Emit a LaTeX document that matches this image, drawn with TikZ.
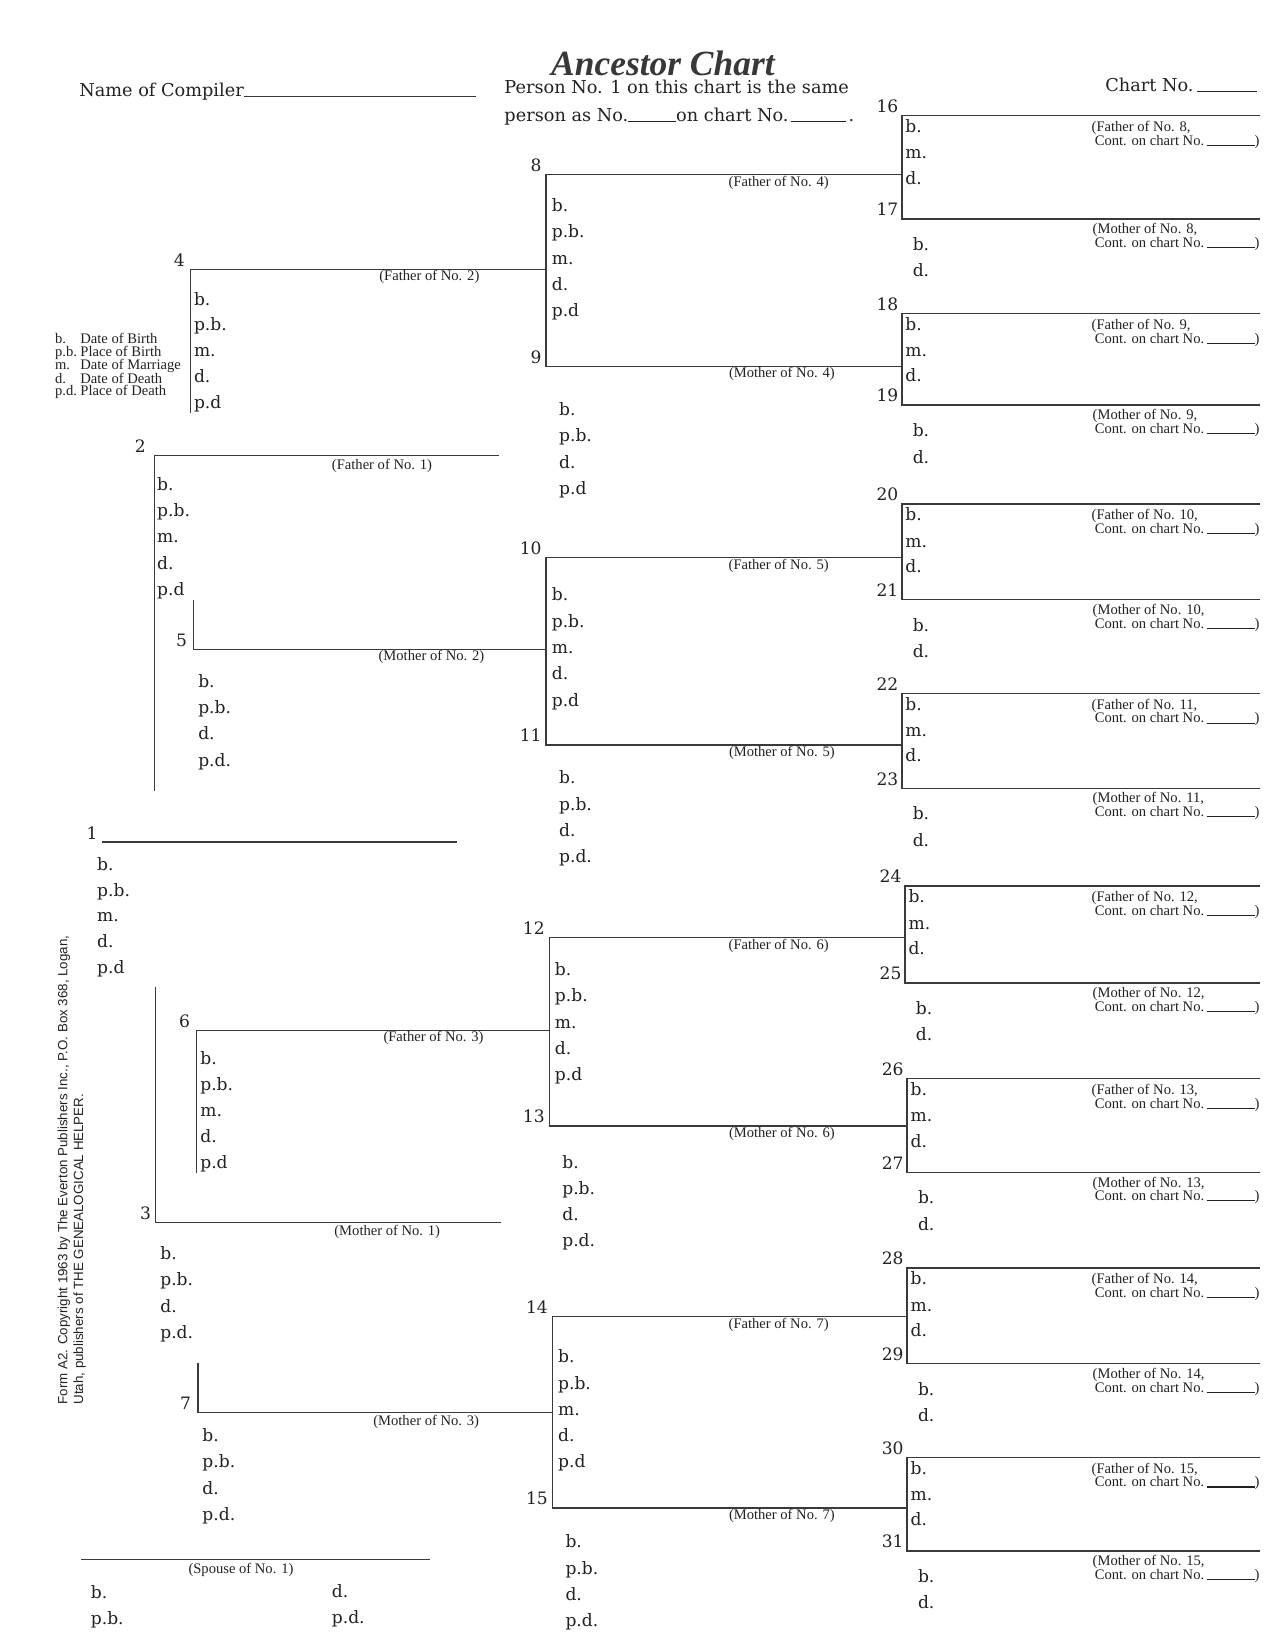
\documentclass[tikz,border=0pt]{standalone}
\usepackage{fontspec}
\setmainfont{DejaVu Serif}
\newfontfamily\capf{Liberation Serif}
\newfontfamily\sanf{Liberation Sans}
\definecolor{ink}{HTML}{222222}
\definecolor{rulec}{HTML}{3A3A3A}
\newcommand{\dfont}{\fontsize{8.2}{9}\selectfont}
\newcommand{\hfont}{\fontsize{8.5}{10}\selectfont}
\newcommand{\cfont}{\capf\fontsize{7}{8}\selectfont}
\newcommand{\fillblank}[1]{\rule[-0.3pt]{#1}{0.5pt}}
\begin{document}
\begin{tikzpicture}[x=0.505pt,y=-0.505pt,
  ln/.style={draw=rulec,line width=0.65pt},
  blankln/.style={draw=rulec,line width=0.5pt},
  dat/.style={anchor=base west,inner sep=0pt,font=\dfont,text=ink},
  num/.style={anchor=base east,inner sep=0pt,font=\dfont,text=ink},
  capc/.style={anchor=base,inner sep=0pt,font=\cfont,text=ink},
  capl/.style={anchor=base west,inner sep=0pt,font=\cfont,text=ink},
  hdr/.style={anchor=base west,inner sep=0pt,font=\hfont,text=ink},
]
\path[use as bounding box,fill=white] (0,0) rectangle (1212,1568);

% ---------- header ----------
\node[text=ink!90] (title) at (630,60) {\capf\bfseries\itshape\fontsize{17}{20}\selectfont Ancestor Chart};
\node[hdr] (nc) at (75,92) {Name of Compiler};
\coordinate (nce) at (452,92);
\draw[blankln] (nc.base east) -- (nce);
\node[hdr] (p1a) at (479,89) {Person No. 1 on this chart is the same};
\node[hdr] (p1b) at (479,115) {person as No.\fillblank{23pt}on chart No.\,\fillblank{26pt}\,.};
\node[hdr] (chno) at (1050,87) {Chart No.\,\fillblank{29pt}};

% ---------- legend ----------
\foreach \a/\t/\y [count=\i] in {b./Date of Birth/323, p.b./Place of Birth/336, m./Date of Marriage/348, d./Date of Death/361, p.d./Place of Death/373}{
  \node[capl] (lga\i) at (52,\y+3) {\a};
  \node[capl] (lgt\i) at (76,\y+3) {\t};
}

% ---------- copyright ----------
\node[rotate=90,anchor=base west,inner sep=0pt,font=\sanf\fontsize{6.4}{7}\selectfont,text=ink] (cp1) at (64,1335) {Form A2. Copyright 1963 by The Everton Publishers Inc., P.O. Box 368, Logan,};
\node[rotate=90,anchor=base west,inner sep=0pt,font=\sanf\fontsize{6.4}{7}\selectfont,text=ink] (cp2) at (79,1335) {Utah, publishers of THE GENEALOGICAL HELPER.};

% ---------- column 4 (16-31) ----------
\foreach \T/\B/\V/\k in {110/208/857/8, 298/385/857/9, 479/570/857/10, 659/749/857/11, 842/934/860/12, 1025/1114/862/13, 1205/1296/862/14, 1385/1474/862/15}{
  \pgfmathtruncatemacro\fa{2*\k}
  \pgfmathtruncatemacro\mo{2*\k+1}
  \coordinate (s\fa) at (\V,\T);
  \coordinate (e\fa) at (1197,\T);
  \coordinate (s\mo) at (\V,\B);
  \coordinate (e\mo) at (1197,\B);
  \draw[ln] (e\fa) -- (s\fa) -- (s\mo) -- (e\mo);
  \node[num] (n\fa) at (\V-3,\T-3) {\fa};
  \node[num] (n\mo) at (\V-3,\B-3) {\mo};
  \node[dat] (b\fa) at (\V+3,\T+16) {b.};
  \node[dat] (m\fa) at (\V+3,\T+41) {m.};
  \node[dat] (d\fa) at (\V+3,\T+65) {d.};
  \node[dat] (b\mo) at (\V+10,\B+30) {b.};
  \node[dat] (d\mo) at (\V+10,\B+55) {d.};
  \node[capl] (cf\fa) at (1037,\T+15) {(Father of No. \k,};
  \node[capl] (cc\fa) at (1040,\T+28) {Cont. on chart No.\,\fillblank{23pt})};
  \node[capl] (cf\mo) at (1038,\B+14) {(Mother of No. \k,};
  \node[capl] (cc\mo) at (1040,\B+27) {Cont. on chart No.\,\fillblank{23pt})};
}

% ---------- column 3 (8-15) ----------
\foreach \T/\B/\V/\k/\fb/\mb/\pdm in {166/348/519/4/196/390/p.d, 530/708/519/5/566/740/p.d., 891/1070/522/6/922/1105/p.d., 1251/1433/525/7/1290/1466/p.d.}{
  \pgfmathtruncatemacro\fa{2*\k}
  \pgfmathtruncatemacro\mo{2*\k+1}
  \pgfmathtruncatemacro\gf{4*\k}
  \pgfmathtruncatemacro\gm{4*\k+2}
  \coordinate (s\fa) at (\V,\T);
  \coordinate (s\mo) at (\V,\B);
  \draw[ln] (s\gf |- s\fa) -- (s\fa) -- (s\mo) -- (s\gm |- s\mo);
  \node[num] (n\fa) at (\V-4,\T-3) {\fa};
  \node[num] (n\mo) at (\V-4,\B-3) {\mo};
  \node[dat] (b\fa) at (\V+5,\fb+5) {b.};
  \node[dat] (pb\fa) at (\V+5,\fb+30) {p.b.};
  \node[dat] (m\fa) at (\V+5,\fb+55) {m.};
  \node[dat] (d\fa) at (\V+5,\fb+80) {d.};
  \node[dat] (pd\fa) at (\V+5,\fb+105) {p.d};
  \node[dat] (b\mo) at (\V+12,\mb+5) {b.};
  \node[dat] (pb\mo) at (\V+12,\mb+30) {p.b.};
  \node[dat] (d\mo) at (\V+12,\mb+55) {d.};
  \node[dat] (pd\mo) at (\V+12,\mb+80) {\pdm};
  \node[capc] (cf\fa) at (740,\T+11) {(Father of No. \k)};
  \node[capc] (cf\mo) at (743,\B+11) {(Mother of No. \k)};
}

% ---------- column 2 (4-7) ----------
\coordinate (s4) at (181,256); \coordinate (v4) at (181,392);
\draw[ln] (s8 |- s4) -- (s4) -- (v4);
\node[num] (n4) at (176,253) {4};
\node[capc] (cf4) at (408,267) {(Father of No. 2)};
\foreach \t [count=\i from 0] in {b.,p.b.,m.,d.,p.d}{\node[dat] (l4-\i) at (184,290+24.5*\i) {\t};}

\coordinate (s5) at (184,617); \coordinate (v5) at (184,570);
\draw[ln] (v5) -- (s5) -- (s10 |- s5);
\node[num] (n5) at (178,614) {5};
\node[capc] (cf5) at (410,628) {(Mother of No. 2)};
\foreach \t [count=\i from 0] in {b.,p.b.,d.,p.d.}{\node[dat] (l5-\i) at (188,653+25*\i) {\t};}

\coordinate (s6) at (187,979); \coordinate (v6) at (187,1115);
\draw[ln] (s12 |- s6) -- (s6) -- (v6);
\node[num] (n6) at (181,976) {6};
\node[capc] (cf6) at (412,990) {(Father of No. 3)};
\foreach \t [count=\i from 0] in {b.,p.b.,m.,d.,p.d}{\node[dat] (l6-\i) at (190,1012+24.7*\i) {\t};}

\coordinate (s7) at (188,1342); \coordinate (v7) at (188,1295);
\draw[ln] (v7) -- (s7) -- (s14 |- s7);
\node[num] (n7) at (182,1339) {7};
\node[capc] (cf7) at (405,1355) {(Mother of No. 3)};
\foreach \t [count=\i from 0] in {b.,p.b.,d.,p.d.}{\node[dat] (l7-\i) at (192,1370+25*\i) {\t};}

% ---------- column 1 (1-3) ----------
\coordinate (s2) at (147,433); \coordinate (e2) at (474,433); \coordinate (v2) at (147,752);
\draw[ln] (e2) -- (s2) -- (v2);
\node[num] (n2) at (139,430) {2};
\node[capc] (cf2) at (363,446) {(Father of No. 1)};
\foreach \t [count=\i from 0] in {b.,p.b.,m.,d.,p.d}{\node[dat] (l2-\i) at (149,466+25*\i) {\t};}

\coordinate (s1) at (97,800); \coordinate (e1) at (434,800);
\draw[ln] (s1) -- (e1);
\node[num] (n1) at (93,798) {1};
\foreach \t [count=\i from 0] in {b.,p.b.,m.,d.,p.d}{\node[dat] (l1-\i) at (92,827+24.5*\i) {\t};}

\coordinate (s3) at (148,1162); \coordinate (e3) at (476,1162); \coordinate (v3) at (148,938);
\draw[ln] (v3) -- (s3) -- (e3);
\node[num] (n3) at (144,1159) {3};
\node[capc] (cf3) at (368,1174) {(Mother of No. 1)};
\foreach \t [count=\i from 0] in {b.,p.b.,d.,p.d.}{\node[dat] (l3-\i) at (152,1197+25*\i) {\t};}

% ---------- spouse ----------
\coordinate (sp1) at (77,1482); \coordinate (sp2) at (409,1482);
\draw[ln] (sp1) -- (sp2);
\node[capc] (csp) at (229,1495) {(Spouse of No. 1)};
\node[dat] (spb) at (86,1519) {b.};
\node[dat] (sppb) at (86,1544) {p.b.};
\node[dat] (spd) at (315,1518) {d.};
\node[dat] (sppd) at (315,1543) {p.d.};
\end{tikzpicture}
\end{document}
